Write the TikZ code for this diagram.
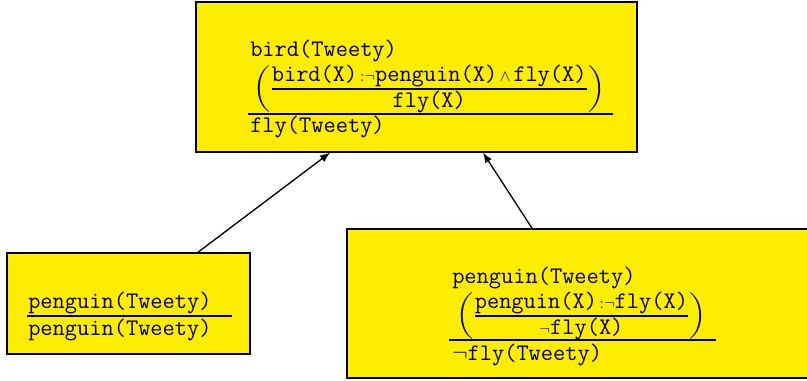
\documentclass[tikz,border=0pt]{standalone}
\usepackage{amsmath}
\usepackage{graphicx}
\usetikzlibrary{arrows.meta}
\definecolor{boxyellow}{RGB}{255,237,0}
\newcommand{\tw}[1]{\mbox{\texttt{#1}}}
\newcommand{\myneg}{{\scriptstyle\neg}}
\newcommand{\mywedge}{{\scriptstyle\,\wedge\,}}
\newcommand{\mycolon}{{\scriptstyle\,:}}
\newcommand{\mylp}{\mathopen{\vcenter{\hbox{\scalebox{1}[0.84]{$\bigg($}}}}}
\newcommand{\myrp}{\mathclose{\vcenter{\hbox{\scalebox{1}[0.84]{$\bigg)$}}}}}
\begin{document}
\begin{tikzpicture}[x=0.75pt,y=-0.75pt,
  box/.style={draw=black,line width=1.1pt,fill=boxyellow,rectangle,inner sep=0pt},
  txt/.style={anchor=base west,inner sep=0pt,font=\fontsize{17.8}{20}\selectfont},
  rulel/.style={line width=1.2pt},
  arr/.style={-{Latex[length=7.5pt,width=6pt]},line width=1pt}]
\useasboundingbox (0,0) rectangle (807,381);
% boxes
\node[box,minimum width=330.75pt,minimum height=112.5pt] (top) at (416.5,77) {};
\node[box,minimum width=182.25pt,minimum height=75.75pt] (left) at (128.5,303.5) {};
\node[box,minimum width=348.75pt,minimum height=111.75pt] (right) at (579.5,303.5) {};
% top box content
\node[txt] (t1) at (250,57) {\texttt{bird(Tweety)}};
\node[txt] (t2) at (253,94.8) {$\mylp\genfrac{}{}{1.1pt}{1}{\tw{bird(X)}\mycolon\myneg\tw{penguin(X)}\mywedge\tw{fly(X)}}{\tw{fly(X)}}\myrp$};
\coordinate (t4a) at (248,114);
\coordinate (t4b) at (613,114);
\draw[rulel] (t4a) -- (t4b);
\node[txt] (t3) at (250,133) {\texttt{fly(Tweety)}};
% left box content
\node[txt] (l1) at (28,308) {\texttt{penguin(Tweety)}};
\coordinate (l2a) at (27,316);
\coordinate (l2b) at (232,316);
\draw[rulel] (l2a) -- (l2b);
\node[txt] (l3) at (28,335) {\texttt{penguin(Tweety)}};
% right box content
\node[txt] (r1) at (452,283) {\texttt{penguin(Tweety)}};
\node[txt] (r2) at (456,321.8) {$\mylp\genfrac{}{}{1.1pt}{1}{\tw{penguin(X)}\mycolon\myneg\tw{fly(X)}}{\myneg\tw{fly(X)}}\myrp$};
\coordinate (r4a) at (449,340);
\coordinate (r4b) at (716,340);
\draw[rulel] (r4a) -- (r4b);
\node[txt] (r3) at (452,360) {$\neg$\texttt{fly(Tweety)}};
% arrows
\draw[arr] ([xshift=52.1pt]left.north) -- ([xshift=-64.9pt]top.south);
\draw[arr] ([xshift=-35.6pt]right.north) -- ([xshift=49.9pt]top.south);
\end{tikzpicture}
\end{document}
